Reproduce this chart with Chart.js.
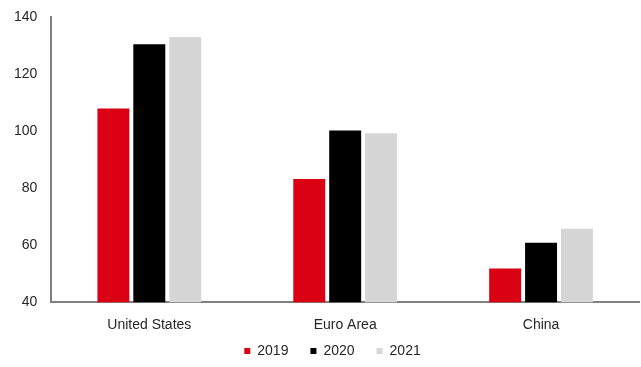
<!DOCTYPE html>
<html>
<head>
<meta charset="utf-8">
<script src="https://cdn.jsdelivr.net/npm/chart.js@4"></script>
<style>
  html, body { margin: 0; padding: 0; background: #fff; }
  #wrap { width: 641px; height: 367px; }
</style>
</head>
<body>
<div id="wrap"><canvas id="myChart" width="641" height="367"></canvas></div>
<script>
/* chart data */
const categories = ['United States', 'Euro Area', 'China'];
const years = ['2019', '2020', '2021'];
const values2019 = [108, 83.3, 51.8];
const values2020 = [130.6, 100.3, 60.9];
const values2021 = [133.1, 99.3, 65.8];
const yTicks = [40, 60, 80, 100, 120, 140];

const colors = ['#dc0014', '#000000', '#d6d6d6'];
const series = [values2019, values2020, values2021];

const data = {
    labels: categories,
    datasets: years.map((y, i) => ({
        label: y,
        data: series[i],
        backgroundColor: colors[i],
        borderWidth: 0,
        categoryPercentage: 0.55,
        barPercentage: 0.89
    }))
};

/* move the legend up and a little right after layout (wide gaps make its box tall) */
const legendLift = {
    id: 'legendLift',
    afterLayout(chart) {
        const lg = chart.legend;
        lg.top -= 27;
        lg.bottom -= 27;
        lg.left += 13;
        lg.right += 13;
    }
};

const config = {
    type: 'bar',
    data: data,
    options: {
        responsive: false,
        animation: false,
        devicePixelRatio: 1,
        layout: {
            padding: { top: 0, right: 2, left: 0, bottom: -28 }
        },
        scales: {
            x: {
                grid: { display: false, drawTicks: false },
                border: { display: true, color: '#808080', width: 2 },
                ticks: {
                    padding: 15,
                    color: '#262626',
                    font: { family: 'Liberation Sans', size: 14 }
                }
            },
            y: {
                min: 40,
                max: 140,
                afterBuildTicks: axis => { axis.ticks = yTicks.map(v => ({ value: v })); },
                afterFit: axis => { axis.paddingTop = Math.max(axis.paddingTop - 5, 0); },
                grid: { display: false, drawTicks: false },
                border: { display: true, color: '#808080', width: 2 },
                ticks: {
                    padding: 14,
                    color: '#262626',
                    font: { family: 'Liberation Sans', size: 14 }
                }
            }
        },
        plugins: {
            legend: {
                position: 'bottom',
                labels: {
                    usePointStyle: true,
                    pointStyle: 'rect',
                    boxWidth: 6,
                    boxHeight: 6,
                    padding: 22,
                    color: '#262626',
                    font: { family: 'Liberation Sans', size: 14 }
                }
            },
            tooltip: { enabled: false }
        }
    },
    plugins: [legendLift]
};

var myChart = new Chart(document.getElementById('myChart'), config);
</script>
</body>
</html>
